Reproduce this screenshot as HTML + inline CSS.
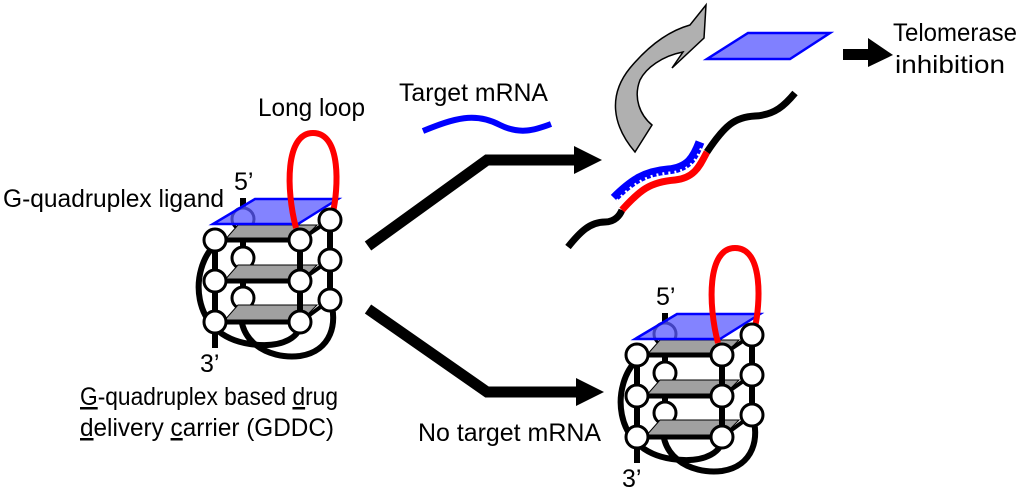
<!DOCTYPE html>
<html><head><meta charset="utf-8"><style>
html,body{margin:0;padding:0;background:#fff;}
svg{display:block;}
text{font-family:"Liberation Sans",Arial,sans-serif;fill:#000;}
</style></head><body>
<svg width="1024" height="496" viewBox="0 0 1024 496" xmlns="http://www.w3.org/2000/svg">
<defs>
<g id="gq">
  <path d="M215,245 C190,268 188,335 250,344 C285,349 302,335 300,322" fill="none" stroke="#000" stroke-width="6"/>
  <path d="M243,300 C232,340 268,360 300,356 C332,351 338,322 330,300" fill="none" stroke="#000" stroke-width="6"/>
  <line x1="243" y1="198" x2="243" y2="298" stroke="#000" stroke-width="6"/>
  <line x1="330" y1="220" x2="330" y2="300" stroke="#000" stroke-width="6"/>
  <circle cx="243" cy="219" r="11" fill="#fff" stroke="#000" stroke-width="3"/>
  <circle cx="243" cy="258" r="11" fill="#fff" stroke="#000" stroke-width="3"/>
  <circle cx="243" cy="298" r="11" fill="#fff" stroke="#000" stroke-width="3"/>
  <polygon points="238,225 317,225 300,242 223,242" fill="#a0a0a0" stroke="#000" stroke-width="1"/>
  <polygon points="238,265 317,265 300,282 223,282" fill="#a0a0a0" stroke="#000" stroke-width="1"/>
  <polygon points="238,305 317,305 300,322 223,322" fill="#a0a0a0" stroke="#000" stroke-width="1"/>
  <line x1="215" y1="240" x2="300" y2="240" stroke="#000" stroke-width="5"/>
  <line x1="215" y1="281" x2="300" y2="281" stroke="#000" stroke-width="5"/>
  <line x1="215" y1="322" x2="300" y2="322" stroke="#000" stroke-width="5"/>
  <line x1="300" y1="240" x2="330" y2="220" stroke="#000" stroke-width="4"/>
  <line x1="300" y1="281" x2="330" y2="260" stroke="#000" stroke-width="4"/>
  <line x1="300" y1="322" x2="330" y2="300" stroke="#000" stroke-width="4"/>
  <polygon points="255,199 338,199 298,224 213,224" fill="rgba(90,90,255,0.75)" stroke="#0000ff" stroke-width="2.5"/>
  <path d="M296,228 C286,190 285,133 313,133 C342,133 338,190 333,212" fill="none" stroke="#ff0000" stroke-width="6"/>
  <line x1="215" y1="240" x2="215" y2="348" stroke="#000" stroke-width="6"/>
  <line x1="300" y1="240" x2="300" y2="322" stroke="#000" stroke-width="6"/>
  <circle cx="215" cy="240" r="11" fill="#fff" stroke="#000" stroke-width="3"/>
  <circle cx="215" cy="281" r="11" fill="#fff" stroke="#000" stroke-width="3"/>
  <circle cx="215" cy="322" r="11" fill="#fff" stroke="#000" stroke-width="3"/>
  <circle cx="300" cy="240" r="11" fill="#fff" stroke="#000" stroke-width="3"/>
  <circle cx="300" cy="281" r="11" fill="#fff" stroke="#000" stroke-width="3"/>
  <circle cx="300" cy="322" r="11" fill="#fff" stroke="#000" stroke-width="3"/>
  <circle cx="330" cy="220" r="11" fill="#fff" stroke="#000" stroke-width="3"/>
  <circle cx="330" cy="260" r="11" fill="#fff" stroke="#000" stroke-width="3"/>
  <circle cx="330" cy="300" r="11" fill="#fff" stroke="#000" stroke-width="3"/>
  <text x="234" y="190" font-size="25">5’</text>
  <text x="200" y="372" font-size="25">3’</text>
</g>
</defs>

<use href="#gq"/>
<use href="#gq" transform="translate(422,115)"/>

<text x="3" y="207" font-size="25" textLength="221" lengthAdjust="spacingAndGlyphs">G-quadruplex ligand</text>
<text x="258" y="116" font-size="25" textLength="107" lengthAdjust="spacingAndGlyphs">Long loop</text>
<text x="399" y="101" font-size="25" textLength="149" lengthAdjust="spacingAndGlyphs">Target mRNA</text>
<path d="M423,131 C455,118 475,112 500,125 C520,135 535,130 551,124" fill="none" stroke="#0000ff" stroke-width="6"/>
<text x="80" y="405" font-size="25" textLength="258" lengthAdjust="spacingAndGlyphs"><tspan text-decoration="underline">G</tspan>-quadruplex based <tspan text-decoration="underline">d</tspan>rug</text>
<text x="80" y="436" font-size="25" textLength="254" lengthAdjust="spacingAndGlyphs"><tspan text-decoration="underline">d</tspan>elivery <tspan text-decoration="underline">c</tspan>arrier (GDDC)</text>
<text x="418" y="441" font-size="25" textLength="183" lengthAdjust="spacingAndGlyphs">No target mRNA</text>

<polyline points="368,246 487,160 576,160" fill="none" stroke="#000" stroke-width="11"/>
<polygon points="574,146 602,160 574,174" fill="#000"/>
<polyline points="368,309 487,392 578,392" fill="none" stroke="#000" stroke-width="11"/>
<polygon points="576,378 604,392 576,406" fill="#000"/>

<path d="M568,247 C580,232 590,222 605,222 C615,222 620,215 622,210" fill="none" stroke="#000" stroke-width="7"/>
<path d="M622,210 C640,190 650,182 675,180 C695,178 700,165 707,152" fill="none" stroke="#ff0000" stroke-width="7"/>
<path d="M614,198 C632,180 645,172 668,170 C688,168 694,158 700,142" fill="none" stroke="#0000ff" stroke-width="9"/>
<path d="M617,201 C634,183 647,175 670,173 C690,171 696,161 702,147" fill="none" stroke="#fff" stroke-width="3" stroke-dasharray="2,4"/>
<path d="M707,152 C725,125 735,117 755,116 C775,115 785,105 795,93" fill="none" stroke="#000" stroke-width="7"/>

<path d="M635,152 C612,125 608,95 630,68 C645,50 665,32 690,25 L706,5 L704,38 L672,68 L683,52 C662,56 646,68 640,80 C633,98 640,115 652,125 Z" fill="#b0b0b0" stroke="#000" stroke-width="1.5"/>

<polygon points="748,33 830,33 790,59 707,59" fill="#8080ff" stroke="#0000ff" stroke-width="2.5"/>

<rect x="843" y="49" width="27" height="11" fill="#000"/>
<polygon points="868,38 893,55 868,67" fill="#000"/>
<text x="955" y="41" font-size="25" text-anchor="middle" textLength="124" lengthAdjust="spacingAndGlyphs">Telomerase</text>
<text x="950" y="73" font-size="25" text-anchor="middle" textLength="110" lengthAdjust="spacingAndGlyphs">inhibition</text>
</svg>
</body></html>
